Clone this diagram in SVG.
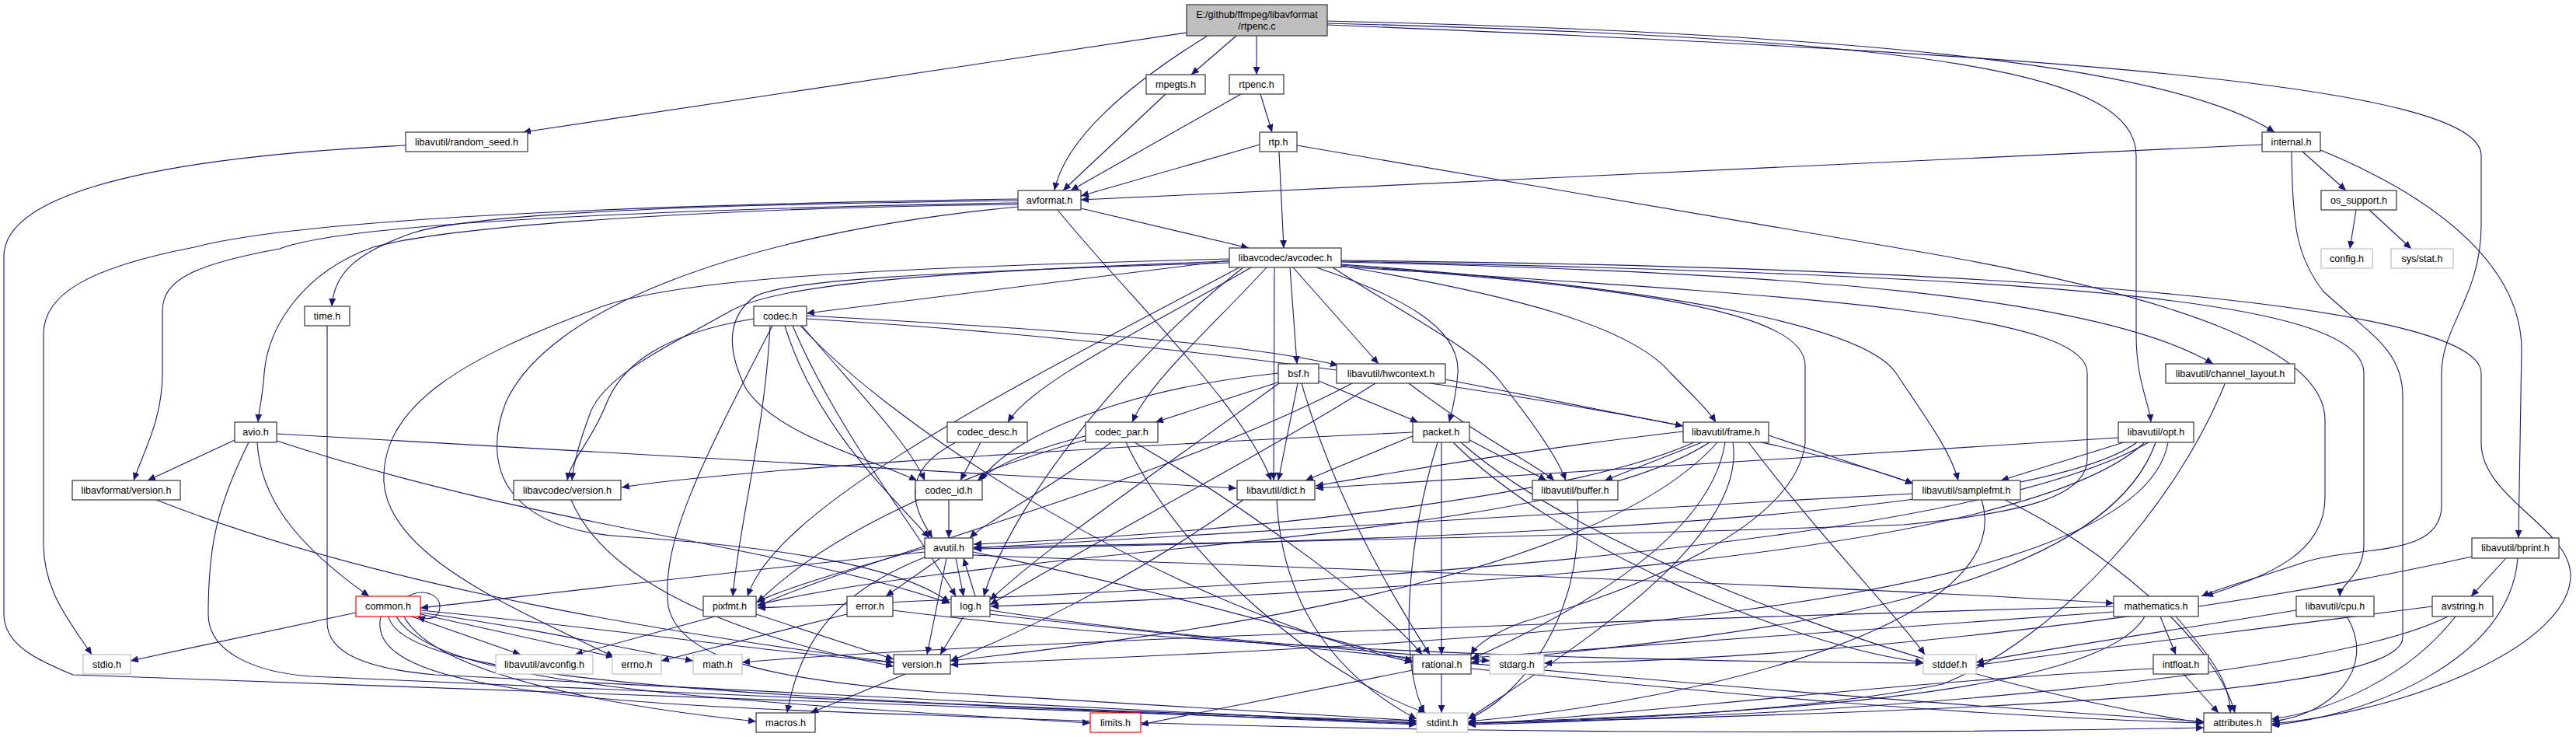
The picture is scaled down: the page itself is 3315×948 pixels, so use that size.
<svg xmlns="http://www.w3.org/2000/svg" width="3315" height="948" viewBox="0 0 3315 948">
<defs>
<marker id="a" viewBox="0 0 10 9" refX="10" refY="4.5" markerWidth="10" markerHeight="9" markerUnits="userSpaceOnUse" orient="auto"><path d="M0,0 L10,4.5 L0,9 z" fill="#191970"/></marker>
<style>
.n rect{fill:#fff;stroke:#333;stroke-width:1.2}
.g rect{fill:#fff;stroke:#bfbfbf;stroke-width:1.2}
.r rect{fill:#fff;stroke:#ff0000;stroke-width:1.2}
.root rect{fill:#bfbfbf;stroke:#333;stroke-width:1.2}
text{font-family:"Liberation Sans",Arial,sans-serif;font-size:12.6px;fill:#000;text-anchor:middle}
#edges path{fill:none;stroke:#191970;stroke-width:1.1;marker-end:url(#a)}
</style>
</defs>
<rect width="3315" height="948" fill="#fff"/>
<g id="edges">
<!-- root -->
<path d="M1527,42 L673,170"/>
<path d="M1554,46 C1450,110 1370,180 1357,245"/>
<path d="M1591,46 L1533,96"/>
<path d="M1617,46 L1617,96"/>
<path d="M1708,27 C2350,42 2790,80 2927,170"/>
<path d="M1708,30 C2500,50 2749,95 2749,200 L2749,430 C2749,490 2765,515 2768,543"/>
<path d="M1708,32 C2650,70 3193,110 3193,200 L3193,290 C3193,380 3142,420 3142,480 L3142,650 C3142,720 3030,700 2960,725 C2900,745 2860,755 2833,767"/>
<path d="M1500,121 L1368,245"/>
<path d="M1597,121 L1378,245"/>
<path d="M1622,121 L1637,170"/>
<path d="M1621,186 L1391,252"/>
<path d="M1646,195 L1652,319"/>
<path d="M1669,187 L2460,322 C2800,380 2992,450 2992,540 L2992,640 C2992,720 2900,745 2838,767"/>
<path d="M2911,186 L1391,257"/>
<path d="M2963,195 L3019,245"/>
<path d="M2949,195 C2950,290 2955,330 2990,375 C3050,430 3092,450 3092,510 L3092,820 C3092,890 2600,915 1889,930"/>
<path d="M2986,193 C3150,260 3245,350 3245,450 L3241,692"/>
<path d="M3032,270 L3024,320"/>
<path d="M3049,270 L3103,320"/>
<path d="M522,187 C150,205 5,260 5,330 L5,790 C5,830 50,850 94,868 L1823,930"/>
<!-- avformat -->
<path d="M1391,268 L1607,319"/>
<path d="M1310,258 C1000,262 620,270 530,300 C460,325 430,350 427,394"/>
<path d="M1310,256 C900,262 400,278 250,318 C110,345 56,380 56,430 L56,700 C56,760 90,800 118,842"/>
<path d="M1310,261 C900,268 450,285 360,320 C250,340 209,360 209,400 L209,480 C209,540 185,580 172,618"/>
<path d="M1310,263 C1000,266 600,285 480,318 C390,350 345,420 340,480 C338,510 333,530 332,543"/>
<path d="M1361,270 C1450,380 1600,520 1636,618"/>
<path d="M1310,266 C950,300 700,400 650,520 C620,600 650,680 800,690 C950,700 1150,720 1222,775"/>
<path d="M421,419 L421,800 C421,840 470,860 560,868 L1823,931"/>
<!-- avio -->
<path d="M302,566 L190,618"/>
<path d="M331,569 C335,640 380,700 475,767"/>
<path d="M356,558 L1591,628"/>
<path d="M356,567 C700,680 1000,700 1222,776"/>
<path d="M320,569 C280,650 268,700 268,790 C268,840 330,865 400,870 L1823,932"/>
<path d="M201,643 C500,760 900,820 1150,852"/>
<!-- avcodec -->
<path d="M1582,335 L1038,403"/>
<path d="M1660,344 L1669,468"/>
<path d="M1664,344 L1774,468"/>
<path d="M1694,344 C1800,380 1880,420 1876,480 C1874,510 1868,530 1865,543"/>
<path d="M1715,344 C1800,400 1900,450 1930,490 C1970,540 2005,590 2015,618"/>
<path d="M1726,342 C1950,380 2100,420 2150,480 C2180,510 2200,530 2208,543"/>
<path d="M1726,340 C2150,370 2400,420 2440,480 C2480,540 2510,580 2520,618"/>
<path d="M1726,337 C2300,350 2700,380 2848,468"/>
<path d="M1726,336 C2600,355 3042,380 3042,480 L3042,700 C3042,740 3012,750 3011,767"/>
<path d="M1726,335 C2700,345 3193,400 3193,480 L3193,570 C3193,640 3308,680 3308,740 C3308,830 3100,915 2924,931"/>
<path d="M1726,341 C2100,370 2323,400 2323,470 L2323,570 C2310,680 2100,760 1960,800 C1920,815 1900,830 1893,842"/>
<path d="M1640,344 L1639,618"/>
<path d="M1610,344 C1480,420 1330,490 1297,543"/>
<path d="M1630,344 C1560,420 1480,490 1457,543"/>
<path d="M1582,338 C1200,350 1000,360 969,383 C935,410 935,450 960,500 C1000,560 1120,590 1180,618"/>
<path d="M1726,343 C2300,380 2686,400 2686,480 L2686,590 C2686,640 2600,660 2450,675 C2000,690 1500,700 1253,704"/>
<path d="M1600,344 C1450,460 1300,650 1266,767"/>
<path d="M1595,344 C1300,500 1000,650 962,767"/>
<path d="M1582,336 C1200,350 1000,365 940,400 C870,440 780,480 760,530 C745,570 738,595 736,618"/>
<path d="M1582,333 C1100,345 850,360 760,400 C600,460 490,520 494,620 C500,720 680,790 790,845"/>
<!-- codec -->
<path d="M994,419 C900,600 850,700 860,780 C875,850 1000,875 1200,890 L1823,927"/>
<path d="M1010,419 C1050,550 1150,640 1196,692"/>
<path d="M1038,406 C1300,420 1600,440 1722,470"/>
<path d="M1020,419 C1080,560 1180,680 1230,767"/>
<path d="M991,419 C985,550 950,680 943,767"/>
<path d="M1030,419 C1150,550 1500,780 1818,852"/>
<path d="M1038,410 C1700,450 2300,560 2462,622"/>
<path d="M1032,419 C1100,500 1170,570 1190,618"/>
<path d="M970,410 C850,430 800,470 780,520 C760,570 735,590 730,618"/>
<!-- codec_desc / codec_id -->
<path d="M1230,569 C1150,610 1180,660 1200,692"/>
<path d="M1262,569 L1236,618"/>
<path d="M1221,643 L1221,692"/>
<!-- codec_par -->
<path d="M1449,569 C1520,720 1700,870 1835,917"/>
<path d="M1430,569 C1350,630 1270,670 1248,692"/>
<path d="M1460,569 C1600,650 1780,780 1830,842"/>
<path d="M1400,565 C1200,620 1050,700 975,775"/>
<path d="M1400,560 C1320,580 1280,600 1258,618"/>
<!-- bsf -->
<path d="M1670,493 L1645,618"/>
<path d="M1650,490 C1500,600 1350,700 1274,772"/>
<path d="M1675,493 C1720,650 1800,780 1840,842"/>
<path d="M1645,480 C1450,500 1300,560 1262,618"/>
<path d="M1650,490 L1487,543"/>
<path d="M1697,490 L1825,543"/>
<!-- hwcontext -->
<path d="M1813,493 C1900,560 1980,600 2000,618"/>
<path d="M1860,488 L2166,548"/>
<path d="M1770,493 C1600,600 1400,700 1274,778"/>
<path d="M1740,493 C1500,620 1100,720 975,780"/>
<!-- packet -->
<path d="M1870,569 C2000,700 2300,830 2475,852"/>
<path d="M1850,569 C1810,700 1800,850 1833,917"/>
<path d="M1880,569 C2050,720 2500,880 2836,930"/>
<path d="M1880,560 L1990,618"/>
<path d="M1820,560 L1680,618"/>
<path d="M1855,569 L1855,842"/>
<path d="M1818,556 C1300,580 900,610 800,627"/>
<!-- frame -->
<path d="M2250,569 C2350,700 2440,790 2477,842"/>
<path d="M2230,569 C2250,700 2000,850 1889,925"/>
<path d="M2180,569 C2000,650 1500,690 1253,700"/>
<path d="M2190,569 L2065,618"/>
<path d="M2166,555 C1950,580 1750,615 1693,625"/>
<path d="M2220,569 C2200,700 2000,800 1893,848"/>
<path d="M2276,560 L2462,622"/>
<path d="M2200,569 C2000,700 1300,700 975,778"/>
<path d="M2210,569 C2050,750 1500,820 1223,850"/>
<!-- channel_layout -->
<path d="M2863,494 C2800,650 2650,820 2500,880 C2300,920 2000,928 1889,930"/>
<!-- opt -->
<path d="M2726,563 C2300,590 1900,615 1693,628"/>
<path d="M2733,569 L2575,618"/>
<path d="M2750,569 C2600,680 1600,700 1253,706"/>
<path d="M2760,569 C2600,720 1800,760 1275,780"/>
<path d="M2765,569 C2500,720 1500,760 975,782"/>
<path d="M2774,569 C2700,780 2200,820 1893,852"/>
<path d="M2790,569 C2750,800 1800,830 1223,855"/>
<!-- lavc/version, dict, buffer, samplefmt -->
<path d="M735,643 C780,750 950,820 1150,857"/>
<path d="M1643,643 C1650,780 1720,870 1823,925"/>
<path d="M1600,643 C1450,750 1300,820 1223,850"/>
<path d="M2030,643 C2040,800 1950,900 1889,925"/>
<path d="M2550,643 C2600,800 2200,900 1889,928"/>
<path d="M2461,635 C2000,660 1500,690 1253,705"/>
<path d="M2580,643 C2700,700 2850,820 2876,917"/>
<!-- avutil -->
<path d="M1190,710 C900,740 650,770 541,782"/>
<path d="M1210,718 L1140,767"/>
<path d="M1252,710 C1500,760 1700,820 1818,850"/>
<path d="M1218,718 L1193,842"/>
<path d="M1192,716 C1080,760 1030,820 1013,917"/>
<path d="M1252,714 C1800,735 2400,755 2720,776"/>
<path d="M1230,718 L1240,767"/>
<path d="M1190,705 C1100,730 1000,760 973,775"/>
<!-- log -->
<path d="M1255,767 L1240,718"/>
<path d="M1274,785 C1500,820 1800,840 1917,850"/>
<path d="M1274,790 C1800,850 2400,900 2836,928"/>
<path d="M1240,793 L1210,842"/>
<!-- common -->
<path d="M525,767 C545,756 566,765 566,780 C566,795 552,799 537,793"/>
<path d="M458,788 L168,850"/>
<path d="M530,793 L670,842"/>
<path d="M541,790 L790,845"/>
<path d="M541,788 C700,810 830,840 892,850"/>
<path d="M510,793 C560,880 900,900 1403,930"/>
<path d="M500,793 C520,880 1000,900 1823,928"/>
<path d="M490,793 C470,880 700,905 1200,920 C1800,945 2400,945 2836,936"/>
<path d="M520,793 C560,870 800,910 973,928"/>
<path d="M541,785 C800,810 1000,840 1150,852"/>
<!-- pixfmt, error -->
<path d="M920,793 L740,842"/>
<path d="M973,790 L1150,848"/>
<path d="M1090,790 L851,850"/>
<path d="M1149,785 C1500,830 2000,850 2475,853"/>
<!-- mathematics -->
<path d="M2760,793 C2700,900 2200,920 1889,930"/>
<path d="M2720,780 C2000,800 1200,830 955,852"/>
<path d="M2800,793 C2850,850 2870,880 2870,917"/>
<path d="M2720,787 C2400,810 2100,830 1893,846"/>
<path d="M2780,793 L2800,842"/>
<!-- cpu, avstring, bprint -->
<path d="M2955,785 C2800,810 2600,840 2543,852"/>
<path d="M3020,793 C3060,860 3000,920 2923,928"/>
<path d="M3130,780 C2900,810 2650,840 2543,856"/>
<path d="M3150,793 C3000,870 2400,920 1889,932"/>
<path d="M3160,793 C3100,870 3000,915 2923,925"/>
<path d="M3181,716 C2800,800 2300,850 1987,853"/>
<path d="M3240,718 C3230,850 3050,920 2923,933"/>
<path d="M3225,718 L3180,767"/>
<!-- version, rational, intfloat -->
<path d="M1165,867 L1043,917"/>
<path d="M1855,867 L1855,917"/>
<path d="M1818,862 L1468,932"/>
<path d="M1893,860 C2200,890 2500,920 2836,930"/>
<path d="M2771,860 C2400,880 2100,920 1889,932"/>
<path d="M2810,867 L2855,917"/>
</g>
<g id="n_root" class="root"><rect x="1527" y="6" width="181" height="40"/><text x="1617.5" y="23">E:/github/ffmpeg/libavformat</text><text x="1617.5" y="38">/rtpenc.c</text></g>
<g id="n_mpegts" class="n"><rect x="1475" y="96" width="76" height="25"/><text x="1513" y="113">mpegts.h</text></g>
<g id="n_rtpenc" class="n"><rect x="1582" y="96" width="70" height="25"/><text x="1617" y="113">rtpenc.h</text></g>
<g id="n_random_seed" class="n"><rect x="522" y="170" width="157" height="25"/><text x="600.5" y="187">libavutil/random_seed.h</text></g>
<g id="n_rtp" class="n"><rect x="1621" y="170" width="48" height="25"/><text x="1645" y="187">rtp.h</text></g>
<g id="n_internal" class="n"><rect x="2911" y="170" width="75" height="25"/><text x="2948.5" y="187">internal.h</text></g>
<g id="n_avformat" class="n"><rect x="1310" y="245" width="81" height="25"/><text x="1350.5" y="262">avformat.h</text></g>
<g id="n_os_support" class="n"><rect x="2987" y="245" width="97" height="25"/><text x="3035.5" y="262">os_support.h</text></g>
<g id="n_avcodec" class="n"><rect x="1582" y="319" width="144" height="25"/><text x="1654" y="336">libavcodec/avcodec.h</text></g>
<g id="n_config" class="g"><rect x="2987" y="320" width="66" height="25"/><text x="3020" y="337">config.h</text></g>
<g id="n_sysstat" class="g"><rect x="3077" y="320" width="80" height="25"/><text x="3117" y="337">sys/stat.h</text></g>
<g id="n_time" class="n"><rect x="392" y="394" width="58" height="25"/><text x="421" y="411">time.h</text></g>
<g id="n_codec" class="n"><rect x="970" y="394" width="68" height="25"/><text x="1004" y="411">codec.h</text></g>
<g id="n_bsf" class="n"><rect x="1645" y="468" width="52" height="25"/><text x="1671" y="485">bsf.h</text></g>
<g id="n_hwcontext" class="n"><rect x="1720" y="468" width="140" height="25"/><text x="1790" y="485">libavutil/hwcontext.h</text></g>
<g id="n_channel_layout" class="n"><rect x="2787" y="468" width="166" height="25"/><text x="2870" y="485">libavutil/channel_layout.h</text></g>
<g id="n_avio" class="n"><rect x="302" y="543" width="54" height="26"/><text x="329" y="560">avio.h</text></g>
<g id="n_codec_desc" class="n"><rect x="1219" y="543" width="103" height="26"/><text x="1270.5" y="560">codec_desc.h</text></g>
<g id="n_codec_par" class="n"><rect x="1397" y="543" width="93" height="26"/><text x="1443.5" y="560">codec_par.h</text></g>
<g id="n_packet" class="n"><rect x="1818" y="543" width="73" height="26"/><text x="1854.5" y="560">packet.h</text></g>
<g id="n_frame" class="n"><rect x="2166" y="543" width="110" height="26"/><text x="2221" y="560">libavutil/frame.h</text></g>
<g id="n_opt" class="n"><rect x="2726" y="543" width="97" height="26"/><text x="2774.5" y="560">libavutil/opt.h</text></g>
<g id="n_lavf_version" class="n"><rect x="93" y="618" width="139" height="25"/><text x="162.5" y="635">libavformat/version.h</text></g>
<g id="n_lavc_version" class="n"><rect x="661" y="618" width="138" height="25"/><text x="730" y="635">libavcodec/version.h</text></g>
<g id="n_codec_id" class="n"><rect x="1178" y="618" width="86" height="25"/><text x="1221" y="635">codec_id.h</text></g>
<g id="n_dict" class="n"><rect x="1592" y="618" width="100" height="25"/><text x="1642" y="635">libavutil/dict.h</text></g>
<g id="n_buffer" class="n"><rect x="1972" y="618" width="110" height="25"/><text x="2027" y="635">libavutil/buffer.h</text></g>
<g id="n_samplefmt" class="n"><rect x="2461" y="618" width="139" height="25"/><text x="2530.5" y="635">libavutil/samplefmt.h</text></g>
<g id="n_avutil" class="n"><rect x="1190" y="692" width="62" height="26"/><text x="1221" y="709">avutil.h</text></g>
<g id="n_bprint" class="n"><rect x="3181" y="692" width="112" height="26"/><text x="3237" y="709">libavutil/bprint.h</text></g>
<g id="n_common" class="r"><rect x="458" y="767" width="83" height="26"/><text x="499.5" y="784">common.h</text></g>
<g id="n_pixfmt" class="n"><rect x="905" y="767" width="68" height="26"/><text x="939" y="784">pixfmt.h</text></g>
<g id="n_error" class="n"><rect x="1090" y="767" width="59" height="26"/><text x="1119.5" y="784">error.h</text></g>
<g id="n_log" class="n"><rect x="1224" y="767" width="50" height="26"/><text x="1249" y="784">log.h</text></g>
<g id="n_mathematics" class="n"><rect x="2720" y="767" width="109" height="26"/><text x="2774.5" y="784">mathematics.h</text></g>
<g id="n_cpu" class="n"><rect x="2955" y="767" width="100" height="26"/><text x="3005" y="784">libavutil/cpu.h</text></g>
<g id="n_avstring" class="n"><rect x="3130" y="767" width="78" height="26"/><text x="3169" y="784">avstring.h</text></g>
<g id="n_stdio" class="g"><rect x="107" y="842" width="61" height="25"/><text x="137.5" y="859">stdio.h</text></g>
<g id="n_avconfig" class="g"><rect x="638" y="842" width="125" height="25"/><text x="700.5" y="859">libavutil/avconfig.h</text></g>
<g id="n_errno" class="g"><rect x="788" y="842" width="63" height="25"/><text x="819.5" y="859">errno.h</text></g>
<g id="n_math" class="g"><rect x="892" y="842" width="63" height="25"/><text x="923.5" y="859">math.h</text></g>
<g id="n_version" class="n"><rect x="1150" y="842" width="73" height="25"/><text x="1186.5" y="859">version.h</text></g>
<g id="n_rational" class="n"><rect x="1818" y="842" width="75" height="25"/><text x="1855.5" y="859">rational.h</text></g>
<g id="n_stdarg" class="g"><rect x="1917" y="842" width="70" height="25"/><text x="1952" y="859">stdarg.h</text></g>
<g id="n_stddef" class="g"><rect x="2475" y="842" width="68" height="25"/><text x="2509" y="859">stddef.h</text></g>
<g id="n_intfloat" class="n"><rect x="2771" y="842" width="71" height="25"/><text x="2806.5" y="859">intfloat.h</text></g>
<g id="n_macros" class="n"><rect x="973" y="917" width="76" height="25"/><text x="1011" y="934">macros.h</text></g>
<g id="n_limits" class="r"><rect x="1403" y="917" width="65" height="25"/><text x="1435.5" y="934">limits.h</text></g>
<g id="n_stdint" class="g"><rect x="1823" y="917" width="66" height="25"/><text x="1856" y="934">stdint.h</text></g>
<g id="n_attributes" class="n"><rect x="2836" y="917" width="87" height="25"/><text x="2879.5" y="934">attributes.h</text></g>
</svg>
